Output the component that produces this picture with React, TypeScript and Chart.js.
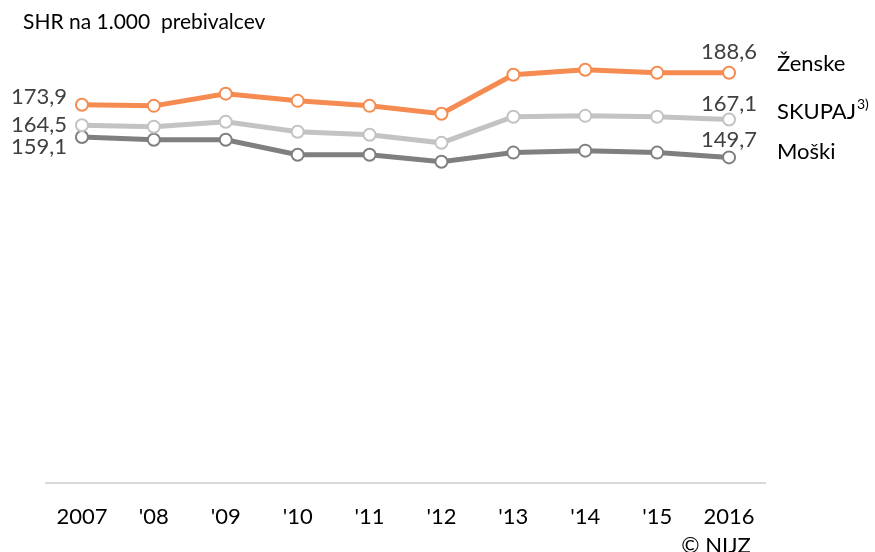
import React, { useEffect, useRef } from "react";
import { Chart, registerables } from "chart.js";

Chart.register(...registerables);

const categories = ["2007", "'08", "'09", "'10", "'11", "'12", "'13", "'14", "'15", "2016"];
const zenske = [173.9, 173.4, 179.0, 175.7, 173.4, 169.8, 187.7, 190.0, 188.6, 188.6];
const skupaj = [164.5, 163.8, 166.1, 161.5, 160.1, 156.4, 168.4, 168.8, 168.4, 167.1];
const moski = [159.1, 157.8, 157.8, 150.9, 150.9, 147.7, 151.9, 152.8, 151.9, 149.7];
const seriesNames = ["Ženske", "SKUPAJ", "Moški"];
const colors = ["#F58B50", "#C3C3C3", "#7F7F7F"];
const title = "SHR na 1.000  prebivalcev";
const source = "© NIJZ";

const FONT = "Lato, 'Open Sans', sans-serif";

const fmt = (v: number) => v.toFixed(1).replace(".", ",");

const textPlugin = {
  id: "texts",
  afterDraw(chart: any) {
    const ctx = chart.ctx as CanvasRenderingContext2D;
    const x = chart.scales.x;
    const y = chart.scales.y;
    ctx.save();
    // title
    ctx.fillStyle = "#000";
    ctx.font = `21px ${FONT}`;
    ctx.textAlign = "left";
    ctx.textBaseline = "middle";
    ctx.fillText(title, 23, 22);

    const data = [zenske, skupaj, moski];
    const first = x.getPixelForValue(0);
    const lastIdx = categories.length - 1;
    const last = x.getPixelForValue(lastIdx);

    // first values (left)
    ctx.font = `22px ${FONT}`;
    ctx.fillStyle = "#404040";
    ctx.textAlign = "right";
    const firstOffsets = [-8, 0, 10];
    data.forEach((d, i) => {
      ctx.fillText(fmt(d[0]), first - 15, y.getPixelForValue(d[0]) + firstOffsets[i]);
    });
    // last values (above)
    ctx.textAlign = "center";
    const lastOffsets = [-21, -16, -17];
    data.forEach((d, i) => {
      ctx.fillText(fmt(d[lastIdx]), last, y.getPixelForValue(d[lastIdx]) + lastOffsets[i]);
    });

    // legend labels
    ctx.fillStyle = "#000";
    ctx.textAlign = "left";
    ctx.font = `22px ${FONT}`;
    const lx = 777;
    ctx.fillText(seriesNames[0], lx, 64);
    ctx.fillText(seriesNames[1], lx, 112);
    const w = ctx.measureText(seriesNames[1]).width;
    ctx.font = `14px ${FONT}`;
    ctx.fillText("3)", lx + w + 1, 104);
    ctx.font = `22px ${FONT}`;
    ctx.fillText(seriesNames[2], lx, 152);

    // source
    ctx.textAlign = "center";
    ctx.fillText(source, 716, 546);
    ctx.restore();
  },
};

export default function App() {
  const ref = useRef<HTMLCanvasElement | null>(null);
  useEffect(() => {
    document.body.style.margin = "0";
    const ds = (label: string, data: number[], color: string) => ({
      label,
      data,
      borderColor: color,
      backgroundColor: "#fff",
      borderWidth: 5,
      pointRadius: 6,
      pointBorderWidth: 2,
      pointBackgroundColor: "#fff",
      pointBorderColor: color,
      tension: 0,
    });
    const chart = new Chart(ref.current as HTMLCanvasElement, {
      type: "line",
      data: {
        labels: categories,
        datasets: [
          ds(seriesNames[0], zenske, colors[0]),
          ds(seriesNames[1], skupaj, colors[1]),
          ds(seriesNames[2], moski, colors[2]),
        ],
      },
      options: {
        animation: false,
        responsive: false,
        devicePixelRatio: 1,
        layout: { padding: { left: 46, right: 110, top: 48, bottom: 1 } },
        plugins: { legend: { display: false }, tooltip: { enabled: false } },
        scales: {
          x: {
            offset: true,
            grid: { display: false, drawTicks: false },
            border: { display: true, color: "#D9D9D9", width: 2 },
            ticks: {
              color: "#000",
              font: { family: FONT, size: 22, lineHeight: 1 },
              padding: 23,
              maxRotation: 0,
              autoSkip: false,
            },
          },
          y: { display: false, min: 0, max: 200 },
        },
      },
      plugins: [textPlugin],
    });
    return () => chart.destroy();
  }, []);
  return (
    <div style={{ position: "absolute", left: 0, top: 0, width: 875, height: 552, background: "#fff" }}>
      <canvas ref={ref} width={875} height={552} />
    </div>
  );
}
